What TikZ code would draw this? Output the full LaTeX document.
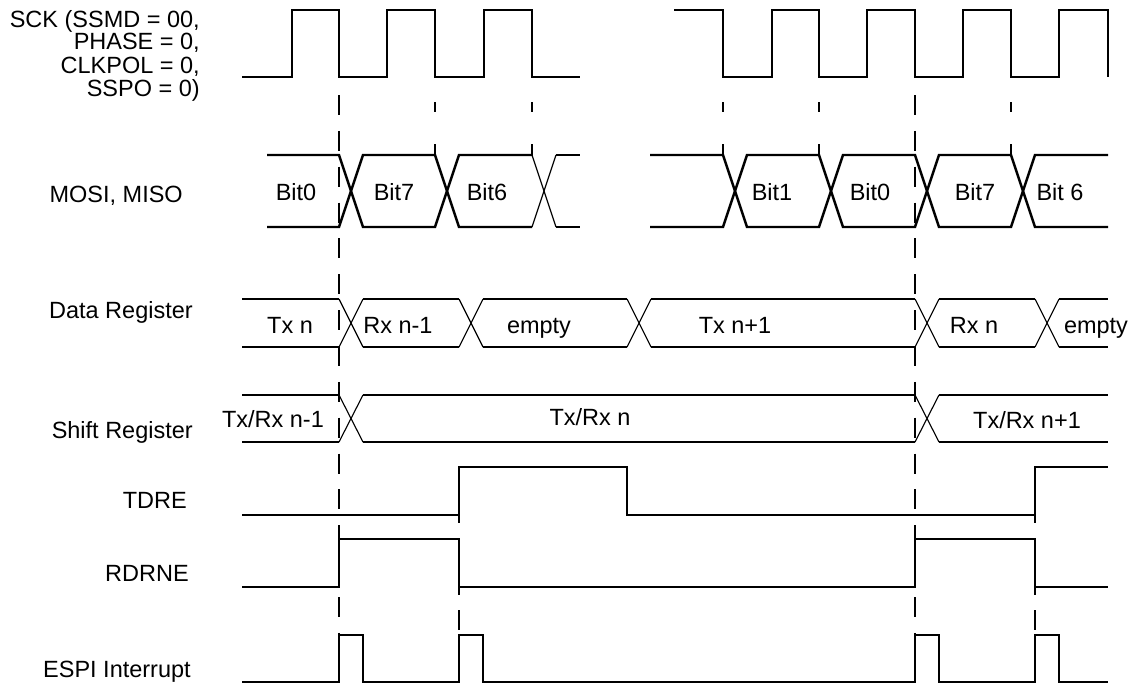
\documentclass[tikz,border=0pt]{standalone}
\usepackage{fontspec}
\setmainfont{Liberation Sans}
\usetikzlibrary{positioning}

\newcommand{\xcross}[4][xing]{%
  \draw[#1] (#2,#3) -- (#2+24,#4);
  \draw[#1] (#2,#4) -- (#2+24,#3);}

\begin{document}
\begin{tikzpicture}[x=0.025cm,y=-0.025cm]
    \tikzstyle{every node}+=[inner sep=0pt, font=\fontsize{16.7}{16.7}\selectfont]
    \tikzstyle{sig}=[black, line width=1.75pt]
    \tikzstyle{reg}=[black, line width=1.3pt]
    \tikzstyle{xing}=[black, line width=0.8pt]
    \tikzstyle{guide}=[black, line width=1.6pt, dash pattern=on 14.2pt off 11.3pt]
    \useasboundingbox (0,0) rectangle (1132,684);
    % signal names
    \node[anchor=base east] (sck1) at (200,27) {SCK (SSMD = 00,};
    \node[anchor=base east] (sck2) at (200,50) {PHASE = 0,};
    \node[anchor=base east] (sck3) at (200,73) {CLKPOL = 0,};
    \node[anchor=base east] (sck4) at (200,96) {SSPO = 0)};
    \node[anchor=base east] (mosilbl) at (183,202) {MOSI, MISO};
    \node[anchor=base east] (datalbl) at (193,318) {Data Register};
    \node[anchor=base east] (shiftlbl) at (193,438) {Shift Register};
    \node[anchor=base east] (tdrelbl) at (187,508) {TDRE};
    \node[anchor=base east] (rdrnelbl) at (189,581) {RDRNE};
    \node[anchor=base east] (espilbl) at (191,677) {ESPI Interrupt};
    % guide lines
    \draw[guide] (339,95) -- (339,635);
    \draw[guide] (915,95) -- (915,635);
    \draw[guide] (459,467) -- (459,635);
    \draw[guide] (1035,467) -- (1035,635);
    \foreach \x in {435,532,723,819,1011} {
        \draw[guide] (\x,102) -- (\x,112);
        \draw[guide] (\x,144) -- (\x,156);
    }
    % SCK
    \draw[sig] (242,77) -- (292,77) -- (292,10) -- (339,10) -- (339,77) -- (387,77) -- (387,10)
        -- (435,10) -- (435,77) -- (484,77) -- (484,10) -- (532,10) -- (532,77) -- (580,77);
    \draw[sig] (674,10) -- (723,10) -- (723,77) -- (772,77) -- (772,10) -- (819,10) -- (819,77)
        -- (867,77) -- (867,10) -- (915,10) -- (915,77) -- (963,77) -- (963,10) -- (1011,10)
        -- (1011,77) -- (1059,77) -- (1059,10) -- (1108,10) -- (1108,77);
    % MOSI, MISO
    \draw[sig] (267,155) -- (339,155) -- (363,227) -- (435,227) -- (459,155) -- (532,155);
    \draw[sig] (267,227) -- (339,227) -- (363,155) -- (435,155) -- (459,227) -- (532,227);
    \xcross{532}{155}{227}
    \draw[sig] (556,155) -- (580,155);
    \draw[sig] (556,227) -- (580,227);
    \draw[sig] (650,155) -- (723,155) -- (747,227) -- (819,227) -- (843,155) -- (915,155)
        -- (939,227) -- (1011,227) -- (1035,155) -- (1108,155);
    \draw[sig] (650,227) -- (723,227) -- (747,155) -- (819,155) -- (843,227) -- (915,227)
        -- (939,155) -- (1011,155) -- (1035,227) -- (1108,227);
    \node[anchor=base] (bit0a) at (296,200) {Bit0};
    \node[anchor=base] (bit7a) at (394,200) {Bit7};
    \node[anchor=base] (bit6a) at (487,200) {Bit6};
    \node[anchor=base] (bit1b) at (772,200) {Bit1};
    \node[anchor=base] (bit0b) at (870,200) {Bit0};
    \node[anchor=base] (bit7b) at (975,200) {Bit7};
    \node[anchor=base] (bit6b) at (1060,200) {Bit 6};
    % Data Register
    \draw[xing] (242,299) -- (339,299);
    \draw[xing] (242,347) -- (339,347);
    \xcross{339}{299}{347}
    \draw[sig] (363,299) -- (459,299);
    \draw[sig] (363,347) -- (459,347);
    \xcross{459}{299}{347}
    \draw[xing] (483,299) -- (627,299);
    \draw[xing] (483,347) -- (627,347);
    \xcross{627}{299}{347}
    \draw[sig] (651,299) -- (915,299);
    \draw[sig] (651,347) -- (915,347);
    \xcross{915}{299}{347}
    \draw[reg] (939,299) -- (1035,299);
    \draw[reg] (939,347) -- (1035,347);
    \xcross{1035}{299}{347}
    \draw[reg] (1059,299) -- (1108,299);
    \draw[reg] (1059,347) -- (1108,347);
    \node[anchor=base] (txn) at (290,333) {Tx n};
    \node[anchor=base] (rxnm) at (398,333) {Rx n-1};
    \node[anchor=base] (emptya) at (539,333) {empty};
    \node[anchor=base] (txnp) at (735,333) {Tx n+1};
    \node[anchor=base] (rxn) at (974,333) {Rx n};
    \node[anchor=base] (emptyb) at (1096,333) {empty};
    % Shift Register
    \draw[xing] (242,395) -- (339,395);
    \draw[xing] (242,442) -- (339,442);
    \xcross{339}{395}{442}
    \draw[sig] (363,395) -- (459,395);
    \draw[sig] (363,442) -- (459,442);
    \draw[xing] (459,395) -- (915,395);
    \draw[xing] (459,442) -- (915,442);
    \xcross{915}{395}{442}
    \draw[reg] (939,395) -- (1108,395);
    \draw[reg] (939,442) -- (1108,442);
    \node[anchor=base] (trnm) at (273,427) {Tx/Rx n-1};
    \node[anchor=base] (trn) at (590,425) {Tx/Rx n};
    \node[anchor=base] (trnp) at (1027,428) {Tx/Rx n+1};
    % TDRE
    \draw[sig] (242,515) -- (459,515) -- (459,467) -- (627,467) -- (627,515) -- (1035,515)
        -- (1035,467) -- (1108,467);
    % RDRNE
    \draw[sig] (242,587) -- (339,587) -- (339,539) -- (459,539) -- (459,587) -- (915,587)
        -- (915,539) -- (1035,539) -- (1035,587) -- (1108,587);
    % ESPI Interrupt
    \draw[sig] (242,682) -- (339,682) -- (339,635) -- (363,635) -- (363,682) -- (459,682)
        -- (459,635) -- (483,635) -- (483,682) -- (915,682) -- (915,635) -- (939,635)
        -- (939,682) -- (1035,682) -- (1035,635) -- (1059,635) -- (1059,682) -- (1108,682);
\end{tikzpicture}
\end{document}
